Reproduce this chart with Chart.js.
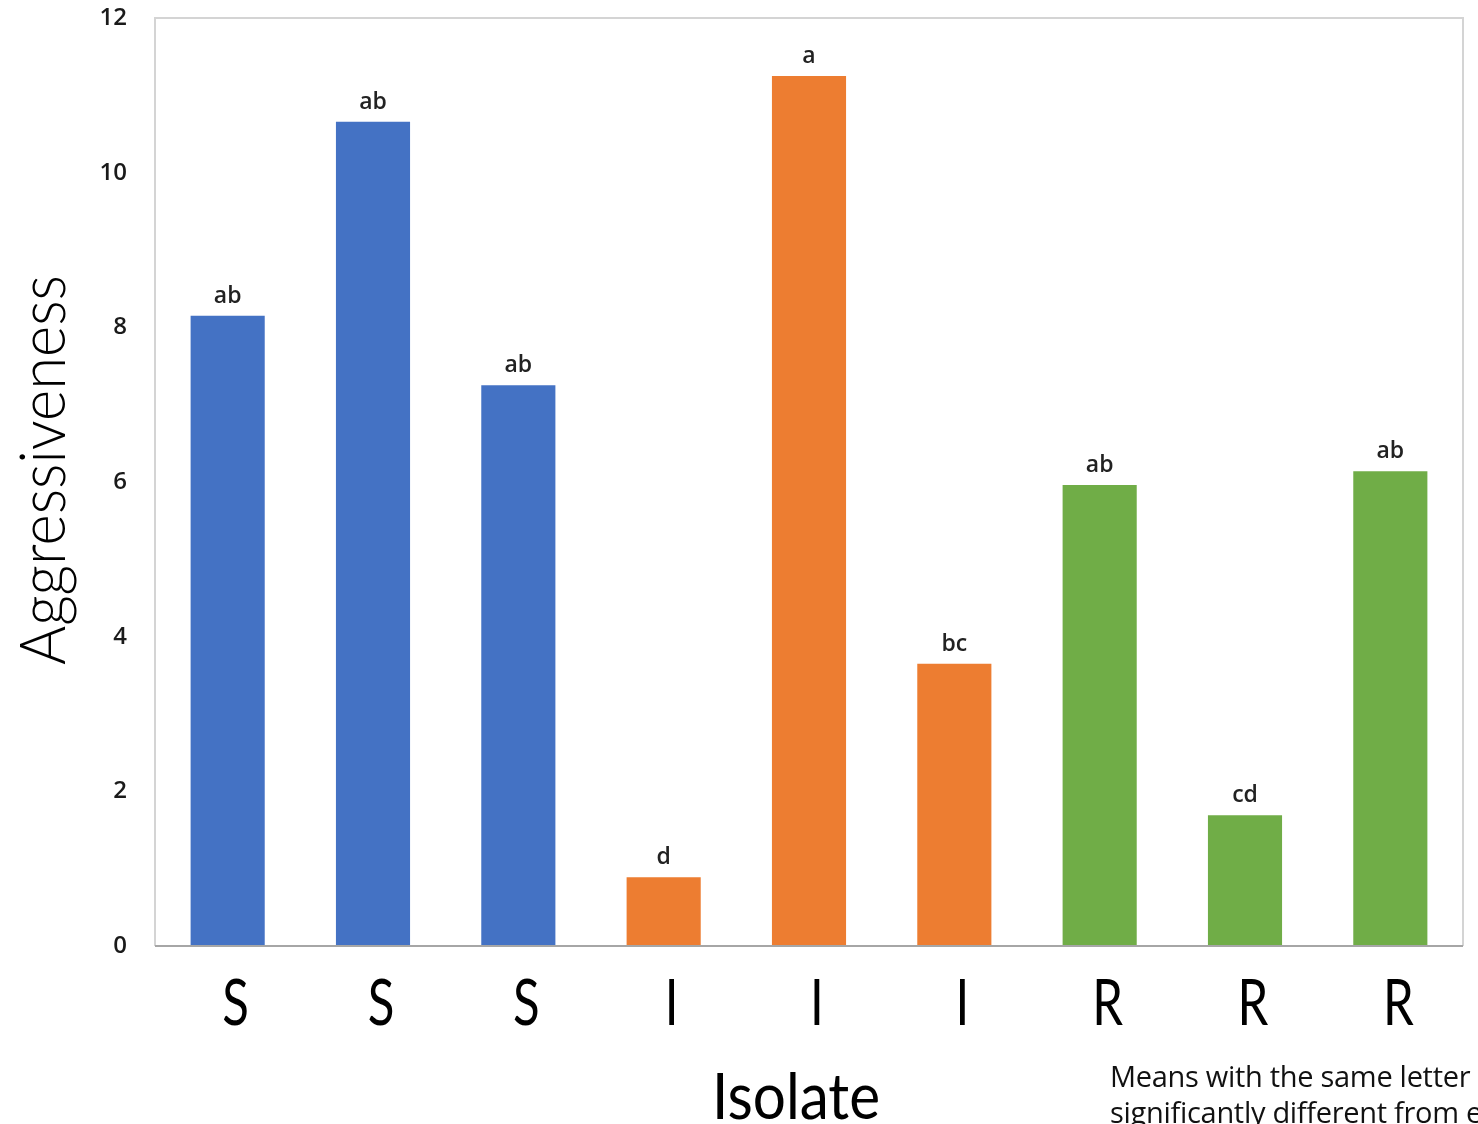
<!DOCTYPE html>
<html>
<head>
<meta charset="utf-8">
<script src="https://cdn.jsdelivr.net/npm/chart.js@4.4.0/dist/chart.umd.min.js"></script>
<style>
  html, body { margin: 0; padding: 0; background: #fff; }
  #wrap { position: relative; width: 1478px; height: 1124px; overflow: hidden; }
  #c { position: absolute; left: 0; top: 0; }
  #note { position: absolute; left: 1110px; top: 1058px; font-family: "Open Sans", sans-serif; font-size: 29px; line-height: 36px; color: #111; white-space: nowrap; letter-spacing: -0.3px; }
</style>
</head>
<body>
<div id="wrap">
  <canvas id="c" width="1478" height="1124"></canvas>
  <div id="note">Means with the same letter are not<br>significantly different from each other</div>
</div>
<script>
const categories = ["S", "S", "S", "I", "I", "I", "R", "R", "R"];
const values = [8.15, 10.66, 7.25, 0.89, 11.25, 3.65, 5.96, 1.69, 6.14];
const letters = ["ab", "ab", "ab", "d", "a", "bc", "ab", "cd", "ab"];
const barColors = ["#4472C4", "#4472C4", "#4472C4", "#ED7D31", "#ED7D31", "#ED7D31", "#70AD47", "#70AD47", "#70AD47"];
const yTicks = [0, 2, 4, 6, 8, 10, 12];
const xTitle = "Isolate";
const yTitle = "Aggressiveness";

const TICK_FONT = '400 63px Lato';
const X_TITLE_FONT = '400 63px Lato';
const Y_TITLE_FONT = '300 63px Lato';

const boxPlugin = {
  id: 'box',
  afterDraw(chart) {
    const { ctx, chartArea: a } = chart;
    ctx.save();
    ctx.strokeStyle = '#d4d4d4';
    ctx.lineWidth = 2;
    ctx.beginPath();
    ctx.moveTo(a.left, a.bottom);
    ctx.lineTo(a.left, a.top);
    ctx.lineTo(a.right, a.top);
    ctx.lineTo(a.right, a.bottom);
    ctx.stroke();
    ctx.strokeStyle = '#a6a6a6';
    ctx.beginPath();
    ctx.moveTo(a.left, a.bottom);
    ctx.lineTo(a.right, a.bottom);
    ctx.stroke();
    ctx.restore();
  }
};

const letterPlugin = {
  id: 'letters',
  afterDatasetsDraw(chart) {
    const { ctx } = chart;
    const meta = chart.getDatasetMeta(0);
    ctx.save();
    ctx.font = '600 23px "Open Sans"';
    ctx.fillStyle = '#222';
    ctx.textAlign = 'center';
    ctx.textBaseline = 'alphabetic';
    meta.data.forEach((bar, i) => {
      ctx.fillText(letters[i], bar.x, bar.y - 13);
    });
    ctx.restore();
  }
};

// Axis labels and titles in a condensed face (horizontal squeeze of Lato)
const axisTextPlugin = {
  id: 'axisText',
  afterDraw(chart) {
    const { ctx, chartArea: a } = chart;
    const xs = chart.scales.x;
    ctx.save();
    ctx.fillStyle = '#000';
    ctx.textAlign = 'center';
    ctx.textBaseline = 'alphabetic';
    // category tick labels
    ctx.font = TICK_FONT;
    categories.forEach((lab, i) => {
      const px = xs.getPixelForValue(i) + 8;
      ctx.save();
      ctx.translate(px, a.bottom + 79);
      ctx.scale(0.78, 1);
      ctx.fillText(lab, 0, 0);
      ctx.restore();
    });
    // x title
    ctx.font = X_TITLE_FONT;
    let w = ctx.measureText(xTitle).width;
    ctx.save();
    ctx.translate((a.left + a.right) / 2 - 13, a.bottom + 173);
    ctx.scale(168 / w, 1);
    ctx.fillText(xTitle, 0, 0);
    ctx.restore();
    // y title
    ctx.font = Y_TITLE_FONT;
    w = ctx.measureText(yTitle).width;
    ctx.save();
    ctx.translate(65, (a.top + a.bottom) / 2 - 12);
    ctx.rotate(-Math.PI / 2);
    ctx.scale(390 / w, 1);
    ctx.fillText(yTitle, 0, 0);
    ctx.restore();
    ctx.restore();
  }
};

new Chart(document.getElementById('c'), {
  type: 'bar',
  data: {
    labels: categories,
    datasets: [{
      data: values,
      backgroundColor: barColors,
      borderWidth: 0,
      categoryPercentage: 1.0,
      barPercentage: 0.51
    }]
  },
  options: {
    responsive: false,
    animation: false,
    devicePixelRatio: 1,
    layout: { padding: { top: 18, right: 15, left: 0, bottom: 0 } },
    plugins: { legend: { display: false }, tooltip: { enabled: false } },
    scales: {
      x: {
        grid: { display: false, drawTicks: false },
        border: { display: false },
        ticks: { display: false },
        title: { display: false, text: xTitle },
        afterFit(scale) { scale.height = 1124 - 946; scale.paddingLeft = 0; scale.paddingRight = 0; }
      },
      y: {
        min: 0,
        max: 12,
        afterBuildTicks(scale) { scale.ticks = yTicks.map(v => ({ value: v })); },
        grid: { display: false, drawTicks: false },
        border: { display: false },
        ticks: {
          color: '#1a1a1a',
          font: { family: '"Open Sans"', size: 24, weight: '600' },
          padding: 28
        },
        title: { display: false, text: yTitle },
        afterFit(scale) { scale.width = 155; scale.paddingTop = 0; scale.paddingBottom = 0; }
      }
    }
  },
  plugins: [boxPlugin, letterPlugin, axisTextPlugin]
});
</script>
</body>
</html>
